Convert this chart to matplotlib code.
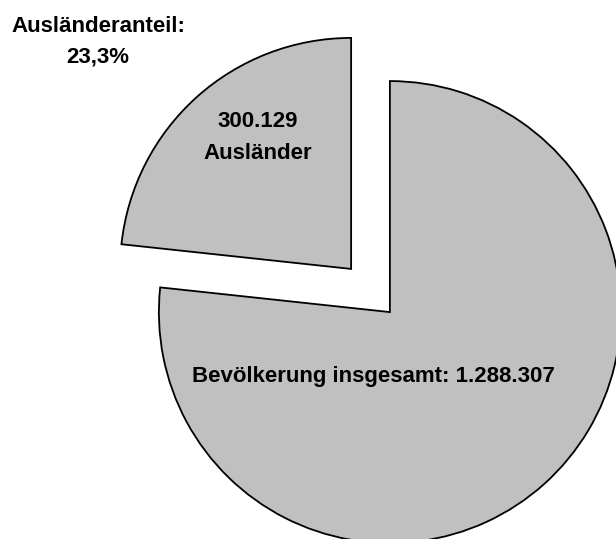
import matplotlib
matplotlib.use('Agg')
import matplotlib.pyplot as plt

plt.rcParams['font.family'] = ['Liberation Sans', 'DejaVu Sans']

# data
labels = ['Inländer', 'Ausländer']
values = [988178, 300129]
total_label = 'Bevölkerung insgesamt: 1.288.307'
foreign_label = ['300.129', 'Ausländer']
share_label = ['Ausländeranteil:', '23,3%']

W, H = 616, 539
fig = plt.figure(figsize=(W / 100, H / 100), dpi=100)
ax = fig.add_axes([0, 0, 1, 1])

# pie in pixel units (y measured from bottom)
ax.pie(values, center=(370.5, 248.5), radius=231, explode=[29, 29],
       startangle=90, counterclock=False, colors=['#c0c0c0', '#c0c0c0'],
       wedgeprops=dict(edgecolor='black', linewidth=1.3), frame=True)
ax.set_xlim(0, W)
ax.set_ylim(0, H)
ax.set_aspect('equal')
ax.axis('off')

kw = dict(fontsize=16, fontweight='bold', ha='center', va='baseline')
ax.text(98, H - 32, share_label[0], **kw)
ax.text(98, H - 62, share_label[1], **kw)
ax.text(258, H - 127, foreign_label[0], **kw)
ax.text(258, H - 159, foreign_label[1], **kw)
ax.text(373.5, H - 382, total_label, **kw)

fig.savefig('out.png', dpi=100)
